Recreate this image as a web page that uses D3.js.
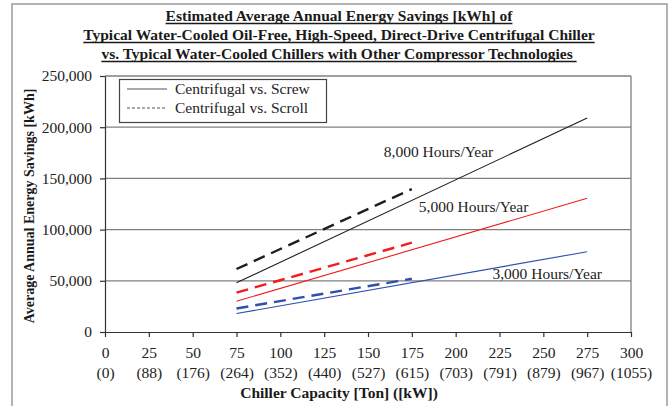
<!doctype html>
<html lang="en">
<head>
    <meta charset="UTF-8">
    <title>Estimated Average Annual Energy Savings</title>
    <style>
        body { margin: 0; background: #fff; }
        svg { display: block; font-family: "Liberation Serif", "Times New Roman", serif; }
        .grid line { stroke: #808080; stroke-width: 1.3px; }
        .axis path, .axis line { stroke: #333; stroke-width: 1.2px; }
        .axis text { font-size: 15.5px; fill: #222; font-family: "Liberation Serif", serif; }
    </style>
</head>
<body>
    <svg width="668" height="406"></svg>
    <script src="https://cdn.jsdelivr.net/npm/d3@7"></script>
    <script>
        // tons on x, kWh/year on y
        const tonsScrew = [75, 275];
        const tonsScroll = [75, 175];
        const hours = ["8,000", "5,000", "3,000"];
        const screwSavings = [[48000, 209000], [30000, 130600], [18000, 78400]];
        const scrollSavings = [[61500, 139600], [38400, 87200], [23000, 52000]];
        const lineColors = ["#1e1e1e", "#f21c1c", "#2d4fae"];
        const labelPos = [[159, 170900], [179, 117200], [221, 51800]];
        const xTicks = [0, 25, 50, 75, 100, 125, 150, 175, 200, 225, 250, 275, 300];
        const kwLabels = ["(0)", "(88)", "(176)", "(264)", "(352)", "(440)", "(527)", "(615)", "(703)", "(791)", "(879)", "(967)", "(1055)"];
        const yTicks = [0, 50000, 100000, 150000, 200000, 250000];
        const titleLines = [
            "Estimated Average Annual Energy Savings [kWh] of",
            "Typical Water-Cooled Oil-Free, High-Speed, Direct-Drive Centrifugal Chiller",
            "vs. Typical Water-Cooled Chillers with Other Compressor Technologies "
        ];
        const legendNames = ["Centrifugal vs. Screw", "Centrifugal vs. Scroll"];

        const svg = d3.select("svg");
        const plot = {left: 105, right: 631, top: 76, bottom: 332};

        // outer frame
        svg.append("rect")
            .attr("x", 12).attr("y", 4)
            .attr("width", 655).attr("height", 420)
            .attr("fill", "none").attr("stroke", "#9a9a9a").attr("stroke-width", 1.5);

        const x = d3.scaleLinear().domain([0, 300]).range([plot.left, plot.right]);
        const y = d3.scaleLinear().domain([0, 250000]).range([plot.bottom, plot.top]);

        // gridlines
        svg.append("g").attr("class", "grid")
            .selectAll("line").data(yTicks.slice(1)).join("line")
            .attr("x1", plot.left).attr("x2", plot.right)
            .attr("y1", d => y(d)).attr("y2", d => y(d));

        // plot area right edge
        svg.append("line")
            .attr("x1", plot.right).attr("x2", plot.right)
            .attr("y1", plot.top).attr("y2", plot.bottom)
            .attr("stroke", "#808080").attr("stroke-width", 1.3);

        svg.append("g").attr("class", "axis")
            .attr("transform", "translate(" + plot.left + ",0)")
            .call(d3.axisLeft(y).tickValues(yTicks).tickSize(5).tickSizeOuter(0).tickPadding(8)
                .tickFormat(d3.format(",")));

        const xAxis = svg.append("g").attr("class", "axis")
            .attr("transform", "translate(0," + plot.bottom + ")")
            .call(d3.axisBottom(x).tickValues(xTicks).tickSize(5).tickSizeOuter(0).tickPadding(10));

        xAxis.selectAll(".tick").append("text")
            .attr("y", 46).attr("fill", "#222")
            .text((d, i) => kwLabels[i]);

        const line = d3.line().x(d => x(d[0])).y(d => y(d[1]));

        screwSavings.forEach((vals, i) => {
            svg.append("path")
                .attr("d", line(tonsScrew.map((t, j) => [t, vals[j]])))
                .attr("fill", "none").attr("stroke", lineColors[i]).attr("stroke-width", 1.1);
        });
        scrollSavings.forEach((vals, i) => {
            svg.append("path")
                .attr("d", line(tonsScroll.map((t, j) => [t, vals[j]])))
                .attr("fill", "none").attr("stroke", lineColors[i]).attr("stroke-width", 2.4)
                .attr("stroke-dasharray", "12,7");
        });

        // hours labels
        hours.forEach((h, i) => {
            svg.append("text")
                .attr("x", x(labelPos[i][0])).attr("y", y(labelPos[i][1]))
                .attr("font-size", 15.5).attr("fill", "#222")
                .text(h + " Hours/Year");
        });

        // legend
        const legend = svg.append("g");
        legend.append("rect")
            .attr("x", 119.5).attr("y", 79.5).attr("width", 207).attr("height", 43)
            .attr("fill", "#fff").attr("stroke", "#444").attr("stroke-width", 1.2);
        legendNames.forEach((name, i) => {
            const ly = 89 + i * 19;
            legend.append("line")
                .attr("x1", 127).attr("x2", 167).attr("y1", ly).attr("y2", ly)
                .attr("stroke", "#555").attr("stroke-width", 1)
                .attr("stroke-dasharray", i ? "3,2" : null);
            legend.append("text")
                .attr("x", 175).attr("y", ly + 5)
                .attr("font-size", 15.5).attr("fill", "#222")
                .text(name);
        });

        // title with underline
        titleLines.forEach((t, i) => {
            const ty = 21 + i * 19;
            const txt = svg.append("text")
                .attr("x", 339).attr("y", ty)
                .attr("text-anchor", "middle")
                .attr("font-size", 15.5).attr("font-weight", "bold").attr("fill", "#1a1a1a")
                .attr("xml:space", "preserve")
                .text(t);
            const w = txt.node().getComputedTextLength();
            svg.append("line")
                .attr("x1", 339 - w / 2).attr("x2", 339 + w / 2)
                .attr("y1", ty + 2.5).attr("y2", ty + 2.5)
                .attr("stroke", "#1a1a1a").attr("stroke-width", 1.6);
        });

        // axis titles
        svg.append("text")
            .attr("x", 339).attr("y", 398)
            .attr("text-anchor", "middle")
            .attr("font-size", 15.5).attr("font-weight", "bold").attr("fill", "#1a1a1a")
            .text("Chiller Capacity [Ton] ([kW])");

        svg.append("text")
            .attr("transform", "translate(34," + ((plot.top + plot.bottom) / 2 + 2) + ") rotate(-90)")
            .attr("text-anchor", "middle")
            .attr("font-size", 14).attr("font-weight", "bold").attr("fill", "#1a1a1a")
            .text("Average Annual Energy Savings [kWh]");
    </script>
</body>
</html>
